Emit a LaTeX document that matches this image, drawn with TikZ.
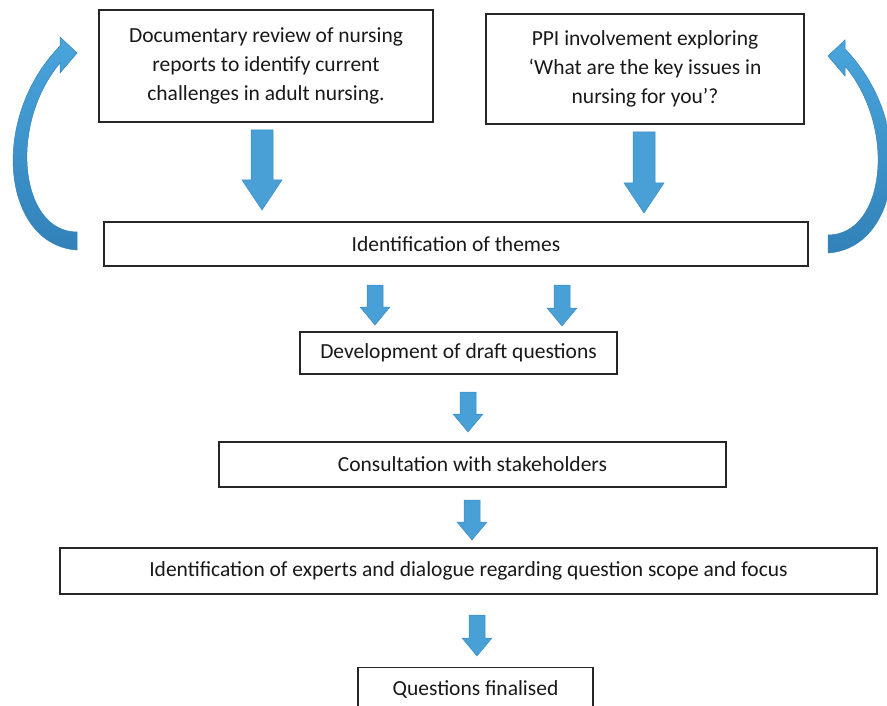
\documentclass[tikz,border=0pt]{standalone}
\usepackage{fontspec}
\setmainfont{Carlito}
\begin{document}
\begin{tikzpicture}[x=1pt,y=-1pt,
  box/.style={draw=black!85,line width=1.1pt,fill=white,align=center,inner sep=0pt,text=black!90,font=\fontsize{21.5}{29}\selectfont},
  arrowblue/.style={fill={rgb,255:red,72;green,160;blue,214},draw={rgb,255:red,62;green,140;blue,195},line width=0.5pt},
  curveblue/.style={top color={rgb,255:red,72;green,165;blue,220},bottom color={rgb,255:red,50;green,130;blue,185},draw={rgb,255:red,50;green,130;blue,185},line width=0.5pt}]
\useasboundingbox (0,0) rectangle (887,706);
\clip (0,0) rectangle (887,706);
\newcommand{\barrow}[6]{\path[arrowblue] (#1-#4,#2) -- (#1+#4,#2) -- (#1+#4,#3-#6) -- (#1+#5,#3-#6) -- (#1,#3) -- (#1-#5,#3-#6) -- (#1-#4,#3-#6) -- cycle;}
% boxes
\node[box,minimum width=334,minimum height=112] (doc) at (266,66) {Documentary review of nursing\\reports to identify current\\challenges in adult nursing.};
\node[box,minimum width=318,minimum height=110] (ppi) at (645,69) {PPI involvement exploring\\`What are the key issues in\\nursing for you'?};
\node[box,minimum width=704,minimum height=44] (themes) at (456,244) {Identification of themes};
\node[box,minimum width=317,minimum height=42] (draft) at (458.5,353) {Development of draft questions};
\node[box,minimum width=507,minimum height=45] (consult) at (472.5,464.5) {Consultation with stakeholders};
\node[box,minimum width=817,minimum height=46] (experts) at (468.5,571) {Identification of experts and dialogue regarding question scope and focus};
\node[box,minimum width=235,minimum height=44,text height=14pt,anchor=north] (final) at (475.5,667) {Questions finalised};
% block arrows
\barrow{262}{130}{210}{11}{20}{30}
\barrow{644}{132}{213}{11}{20}{30}
\barrow{375}{285}{325}{8}{15}{18}
\barrow{562}{285}{326}{8}{15}{18}
\barrow{468}{392}{432}{8}{15}{18}
\barrow{472}{500}{540}{8}{15}{18}
\barrow{477}{615}{656}{8}{15}{18}
% curved arrows
\path[curveblue] (77,250) .. controls (3,245) and (-12,120) .. (60,46) -- (60,37) -- (77,53) -- (60,73) -- (60,63) .. controls (8,125) and (20,232) .. (77,232) -- cycle;
\begin{scope}[xshift=905pt,xscale=-1,yshift=-3pt]
\path[curveblue] (77,250) .. controls (3,245) and (-12,120) .. (60,46) -- (60,37) -- (77,53) -- (60,73) -- (60,63) .. controls (8,125) and (20,232) .. (77,232) -- cycle;
\end{scope}
\end{tikzpicture}
\end{document}
